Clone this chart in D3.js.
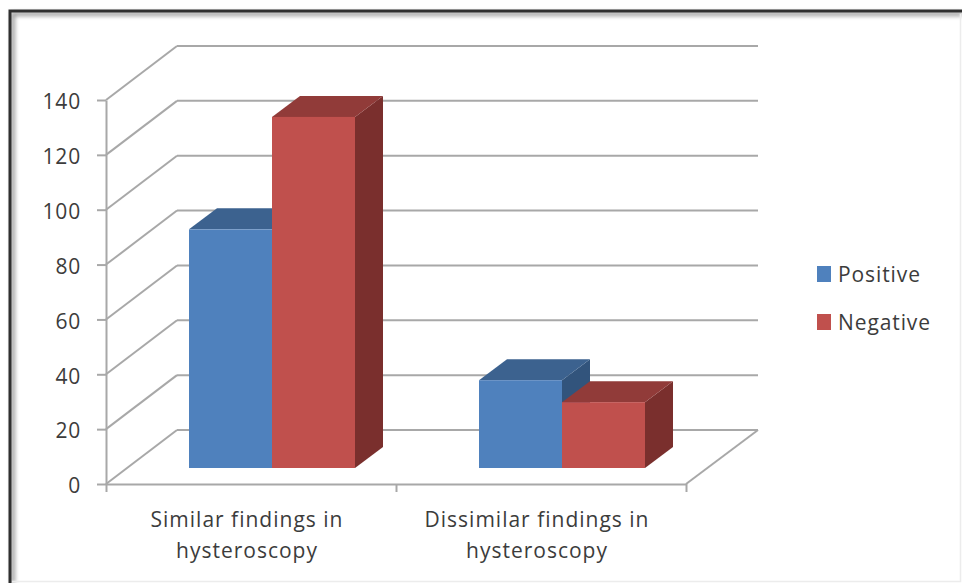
<!DOCTYPE html>
<html>
<head>
<meta charset="utf-8">
<script src="https://cdnjs.cloudflare.com/ajax/libs/d3/7.8.5/d3.min.js"></script>
<style>
  html, body { margin: 0; padding: 0; background: #fff; }
  svg { display: block; }
  text { font-family: "Open Sans", "Noto Sans", sans-serif; fill: #3c3c3c; }
</style>
</head>
<body>
<svg id="chart" width="962" height="583"></svg>
<script>
// Hysteroscopy comparison, drawn as a clustered column chart with a 3-D look.
const categories = ["Similar findings in hysteroscopy", "Dissimilar findings in hysteroscopy"];
const categoryLines = [["Similar findings in", "hysteroscopy"], ["Dissimilar findings in", "hysteroscopy"]];
const seriesNames = ["Positive", "Negative"];
const positiveValues = [87, 32];
const negativeValues = [128, 24];
const valueTicks = [0, 20, 40, 60, 80, 100, 120, 140];

const frontColors = { Positive: "#4f81bd", Negative: "#c0504d" };
const topColors = { Positive: "#3c628f", Negative: "#913b39" };
const sideColors = { Positive: "#32547c", Negative: "#7a2f2d" };

const svg = d3.select("#chart");
const gridColor = "#a8a8a8";

// Plot-box projection: the floor runs up and to the right by (wallDx, wallDy).
const wallDx = 71, wallDy = -54;
const barInsetDx = 21, barInsetDy = -16;
const barDepthDx = 28, barDepthDy = -21;

const y = d3.scaleLinear().domain([0, 140]).range([484, 100]);
const x0 = d3.scaleBand().domain(categories).range([106, 686]).paddingInner(0.4276).paddingOuter(0.2138);
const x1 = d3.scaleBand().domain(seriesNames).range([0, x0.bandwidth()]);

// Soft shadow for the outer frame
const defs = svg.append("defs");
defs.append("filter").attr("id", "soft").attr("x", "-5%").attr("y", "-5%").attr("width", "110%").attr("height", "110%")
  .append("feGaussianBlur").attr("stdDeviation", 2);

const frame = svg.append("g");
frame.append("path").attr("d", "M13,583V14H962").attr("fill", "none")
  .attr("stroke", "#9a9a9a").attr("stroke-width", 4).attr("filter", "url(#soft)");
frame.append("path").attr("d", "M10,583V11H962").attr("fill", "none")
  .attr("stroke", "#2f2f2f").attr("stroke-width", 3);
frame.append("path").attr("d", "M960.5,14V581.5H12").attr("fill", "none")
  .attr("stroke", "#ececec").attr("stroke-width", 1.5);

// Back wall gridlines and the matching side wall lines
const grid = svg.append("g").attr("fill", "none").attr("stroke", gridColor).attr("stroke-width", 2);
grid.selectAll(".back").data(valueTicks).join("line").attr("class", "back")
  .attr("x1", 106 + wallDx).attr("x2", 758)
  .attr("y1", d => y(d) + wallDy).attr("y2", d => y(d) + wallDy);
grid.selectAll(".side").data(valueTicks).join("line").attr("class", "side")
  .attr("x1", 106).attr("x2", 106 + wallDx)
  .attr("y1", d => y(d)).attr("y2", d => y(d) + wallDy);
grid.append("line").attr("x1", 686).attr("y1", y(0)).attr("x2", 758).attr("y2", y(0) + wallDy);

// Value axis
const yAxis = d3.axisLeft(y).tickValues(valueTicks).tickSize(9).tickPadding(16).tickSizeOuter(0);
const yG = svg.append("g").attr("transform", "translate(106,0)").call(yAxis);
yG.selectAll("path, line").attr("stroke", gridColor).attr("stroke-width", 2);
yG.selectAll("text").attr("font-size", 21).attr("letter-spacing", 0.8).attr("dy", "0.42em").attr("fill", "#3c3c3c");

// Category axis: ticks sit between the groups, labels are wrapped by hand
const xAxisScale = d3.scaleLinear().domain([0, categories.length]).range([106, 686]);
const xAxis = d3.axisBottom(xAxisScale).tickValues(d3.range(categories.length + 1)).tickSize(8).tickFormat("").tickSizeOuter(0);
const xG = svg.append("g").attr("transform", `translate(0,${y(0)})`).call(xAxis);
xG.selectAll("path, line").attr("stroke", gridColor).attr("stroke-width", 2);

svg.append("g").selectAll("text").data(categories).join("text")
  .attr("text-anchor", "middle")
  .attr("font-size", 21)
  .attr("letter-spacing", 1)
  .attr("x", (d, i) => xAxisScale(i + 0.5) - 4)
  .attr("y", 527)
  .selectAll("tspan").data((d, i) => categoryLines[i]).join("tspan")
  .attr("x", function () { return d3.select(this.parentNode).attr("x"); })
  .attr("dy", (d, i) => i ? 31 : 0)
  .text(d => d);

// Columns: one group per category, back faces first within each group
const series = [
  { name: "Positive", values: positiveValues },
  { name: "Negative", values: negativeValues }
];
const poly = pts => pts.map(p => p.join(",")).join(" ");
const bars = svg.append("g");
categories.forEach((cat, ci) => {
  series.forEach(s => {
    const v = s.values[ci];
    const left = x0(cat) + x1(s.name) + barInsetDx;
    const right = left + x1.bandwidth();
    const top = y(v) + barInsetDy;
    const base = y(0) + barInsetDy;
    const g = bars.append("g");
    g.append("polygon").attr("fill", sideColors[s.name]).attr("points", poly([
      [right, top], [right + barDepthDx, top + barDepthDy],
      [right + barDepthDx, base + barDepthDy], [right, base]]));
    g.append("polygon").attr("fill", topColors[s.name]).attr("points", poly([
      [left, top], [left + barDepthDx, top + barDepthDy],
      [right + barDepthDx, top + barDepthDy], [right, top]]));
    g.append("rect").attr("fill", frontColors[s.name])
      .attr("x", left).attr("y", top).attr("width", right - left).attr("height", base - top);
  });
});

// Legend
const legendY = d3.scalePoint().domain(seriesNames).range([274, 322]);
const legend = svg.append("g").selectAll("g").data(seriesNames).join("g")
  .attr("transform", d => `translate(817,${legendY(d)})`);
legend.append("rect").attr("y", -8).attr("width", 14).attr("height", 16).attr("fill", d => frontColors[d]);
legend.append("text").attr("x", 21).attr("y", 8).attr("font-size", 21).attr("letter-spacing", 0.9).text(d => d);
</script>
</body>
</html>
